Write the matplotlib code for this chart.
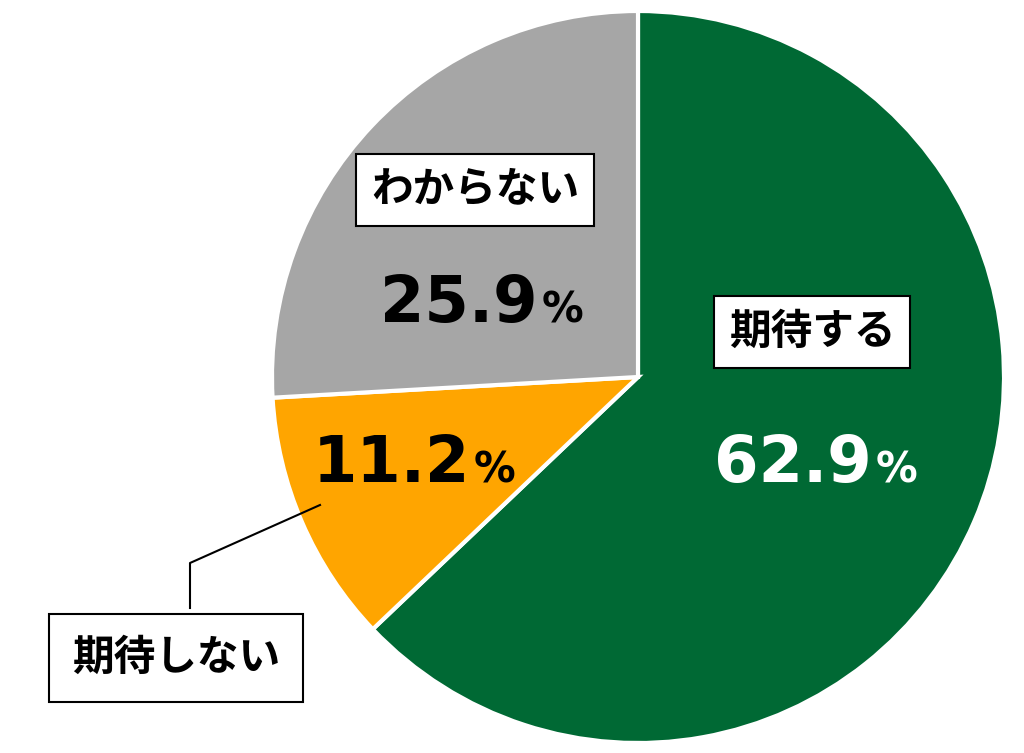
import matplotlib
matplotlib.use("Agg")
import matplotlib.pyplot as plt

plt.rcParams['font.family'] = ['Noto Sans CJK JP', 'DejaVu Sans']

labels = ["期待する", "期待しない", "わからない"]
values = [62.9, 11.2, 25.9]
colors = ["#006934", "#FFA500", "#A6A6A6"]

W, H = 1024, 753
fig = plt.figure(figsize=(W / 100, H / 100), dpi=100)
ax = fig.add_axes([0, 0, 1, 1])
ax.set_xlim(0, W); ax.set_ylim(0, H)
ax.set_aspect("equal"); ax.axis("off")

def Y(y):  # pixel row -> data y
    return H - y

ax.pie(values, colors=colors, startangle=90, counterclock=False,
       center=(638, Y(377)), radius=366, frame=True,
       wedgeprops=dict(edgecolor="white", linewidth=3))
ax.set_xlim(0, W); ax.set_ylim(0, H); ax.axis("off")

box = dict(boxstyle="square,pad=0.35", facecolor="white", edgecolor="black", linewidth=1.5)

def pct(x, y, v, color):
    t = ax.text(x, Y(y), f"{v:.1f}", fontsize=46, fontweight="bold", color=color,
                ha="right", va="baseline", family=["DejaVu Sans"])
    ax.text(x + 4, Y(y), "%", fontsize=30, fontweight="bold", color=color,
            ha="left", va="baseline", family=["DejaVu Sans"])

ax.text(812, Y(332), labels[0], fontsize=30, fontweight="bold", ha="center", va="center", bbox=box)
pct(872, 482, values[0], "white")

ax.text(475, Y(190), labels[2], fontsize=30, fontweight="bold", ha="center", va="center", bbox=box)
pct(538, 322, values[2], "black")

pct(470, 482, values[1], "black")
ax.plot([320, 190, 190], [Y(505), Y(563), Y(608)], color="black", lw=1.5)
ax.text(176, Y(658), labels[1], fontsize=30, fontweight="bold", ha="center", va="center",
        bbox=dict(boxstyle="square,pad=0.55", facecolor="white", edgecolor="black", linewidth=1.5))

fig.savefig("out.png", dpi=100, facecolor="white")
